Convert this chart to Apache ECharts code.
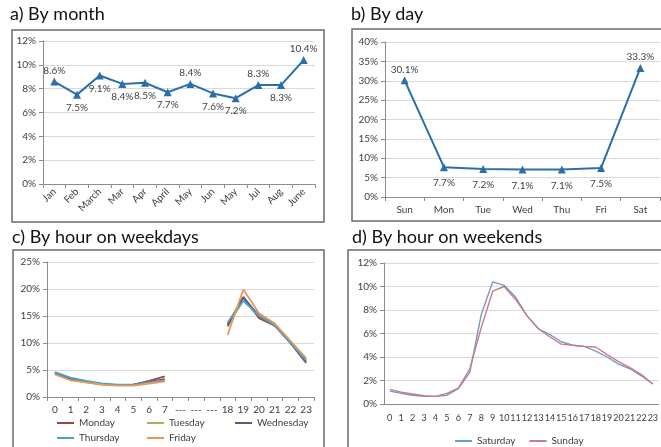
<!DOCTYPE html>
<html>
<head>
<meta charset="utf-8">
<script src="https://cdn.jsdelivr.net/npm/echarts@6/dist/echarts.min.js"></script>
<style>
  html, body { margin: 0; padding: 0; background: #fff; }
  #chart { width: 661px; height: 447px; }
</style>
</head>
<body>
<div id="chart"></div>
<script>
// a) by month
var months = ['Jan', 'Feb', 'March', 'Mar', 'Apr', 'April', 'May', 'Jun', 'May', 'Jul', 'Aug', 'June']
var monthValues = [8.6, 7.5, 9.1, 8.4, 8.5, 7.7, 8.4, 7.6, 7.2, 8.3, 8.3, 10.4]
var monthLabelSide = ['top', 'bottom', 'bottom', 'bottom', 'bottom', 'bottom', 'top', 'bottom', 'bottom', 'top', 'bottom', 'top']

// b) by day
var days = ['Sun', 'Mon', 'Tue', 'Wed', 'Thu', 'Fri', 'Sat']
var dayValues = [30.1, 7.7, 7.2, 7.1, 7.1, 7.5, 33.3]
var dayLabelSide = ['top', 'bottom', 'bottom', 'bottom', 'bottom', 'bottom', 'top']

// c) by hour on weekdays
var weekdayHours = ['0', '1', '2', '3', '4', '5', '6', '7', '---', '---', '---', '18', '19', '20', '21', '22', '23']
var monday    = [4.4, 3.3, 2.8, 2.4, 2.2, 2.3, 3.0, 3.8, null, null, null, 13.5, 18.5, 14.6, 13.2, 10.0, 6.6]
var tuesday   = [4.3, 3.2, 2.7, 2.3, 2.2, 2.2, 2.6, 3.0, null, null, null, 13.0, 18.0, 15.2, 13.5, 10.2, 7.0]
var wednesday = [4.5, 3.4, 2.9, 2.4, 2.2, 2.3, 2.8, 3.3, null, null, null, 13.2, 18.5, 15.0, 13.3, 10.0, 6.3]
var thursday  = [4.6, 3.6, 3.0, 2.5, 2.3, 2.3, 2.7, 3.1, null, null, null, 13.8, 17.8, 15.0, 13.3, 10.0, 6.8]
var friday    = [4.2, 3.1, 2.7, 2.3, 2.1, 2.1, 2.5, 2.9, null, null, null, 11.5, 19.9, 15.5, 13.6, 10.4, 7.2]

// d) by hour on weekends
var weekendHours = ['0', '1', '2', '3', '4', '5', '6', '7', '8', '9', '10', '11', '12', '13', '14', '15', '16', '17', '18', '19', '20', '21', '22', '23']
var saturday = [1.1, 0.9, 0.75, 0.65, 0.65, 0.75, 1.3, 2.7, 7.6, 10.4, 10.1, 9.1, 7.5, 6.4, 5.9, 5.3, 5.0, 4.9, 4.5, 4.0, 3.4, 3.0, 2.4, 1.7]
var sunday   = [1.25, 1.0, 0.85, 0.7, 0.65, 0.9, 1.35, 3.0, 6.5, 9.6, 10.0, 8.9, 7.5, 6.4, 5.7, 5.1, 5.0, 4.9, 4.85, 4.2, 3.6, 3.1, 2.5, 1.7]

var font = 'Lato, "Open Sans", sans-serif'
var blue = '#2a6fab'
var gridColor = '#d9d9d9'
var axisColor = '#8c8c8c'
var textColor = '#404040'

function catAxis(idx, data, extra) {
    var ax = {
        type: 'category',
        gridIndex: idx,
        data: data,
        boundaryGap: true,
        axisLine: { lineStyle: { color: axisColor } },
        axisTick: { show: true, length: 4, lineStyle: { color: axisColor } },
        axisLabel: { color: textColor, fontSize: 10, fontFamily: font, interval: 0, margin: 8 }
    }
    return Object.assign(ax, extra || {})
}

function valAxis(idx, max, step) {
    return {
        type: 'value',
        gridIndex: idx,
        min: 0,
        max: max,
        interval: step,
        axisLine: { show: true, lineStyle: { color: axisColor } },
        axisTick: { show: true, length: 4, lineStyle: { color: axisColor } },
        axisLabel: { color: textColor, fontSize: 10, fontFamily: font, formatter: '{value}%', margin: 7 },
        splitLine: { lineStyle: { color: gridColor, width: 1 } }
    }
}

function labelled(values, sides, dist) {
    return values.map(function (v, i) {
        return {
            value: v,
            label: {
                show: true,
                position: sides[i],
                distance: sides[i] === 'top' ? dist[0] : dist[1],
                formatter: v.toFixed(1) + '%',
                color: textColor,
                fontSize: 10,
                fontFamily: font
            }
        }
    })
}

function hourLine(name, data, color, axisIdx, width) {
    return {
        name: name,
        type: 'line',
        xAxisIndex: axisIdx,
        yAxisIndex: axisIdx,
        data: data,
        symbol: 'none',
        connectNulls: false,
        lineStyle: { color: color, width: width },
        itemStyle: { color: color }
    }
}

function box(x, y, w, h) {
    return {
        type: 'rect',
        shape: { x: x, y: y, width: w, height: h },
        style: { fill: 'none', stroke: '#6b6b6b', lineWidth: 1.5 },
        silent: true
    }
}

var titleStyle = { fontSize: 18, fontWeight: 'normal', color: '#111', fontFamily: font }
var legendText = { color: textColor, fontSize: 10, fontFamily: font }

function legendAt(names, left, top) {
    return {
        data: names, left: left, top: top,
        icon: 'rect', itemWidth: 17, itemHeight: 2, itemGap: 14,
        textStyle: legendText, padding: 0
    }
}

var option = {
    animation: false,
    title: [
        { text: 'a) By month', left: 10, top: 5, textStyle: titleStyle, padding: 0 },
        { text: 'b) By day', left: 351, top: 5, textStyle: titleStyle, padding: 0 },
        { text: 'c) By hour on weekdays', left: 12, top: 228, textStyle: titleStyle, padding: 0 },
        { text: 'd) By hour on weekends', left: 352, top: 228, textStyle: titleStyle, padding: 0 }
    ],
    graphic: [
        box(12, 30, 312, 192),
        box(352, 29, 320, 192),
        box(13, 250, 311, 210),
        box(348, 250, 330, 210)
    ],
    legend: [
        legendAt(['Monday'], 57, 418),
        legendAt(['Tuesday'], 147, 418),
        legendAt(['Wednesday'], 235, 418),
        legendAt(['Thursday'], 57, 433),
        legendAt(['Friday'], 147, 433),
        legendAt(['Saturday', 'Sunday'], 455, 436)
    ],
    grid: [
        { left: 43, top: 41, width: 272, height: 143 },
        { left: 385, top: 42, width: 275, height: 155 },
        { left: 47, top: 262, width: 267, height: 135 },
        { left: 384, top: 263, width: 278, height: 141 }
    ],
    xAxis: [
        catAxis(0, months, { axisLabel: { color: textColor, fontSize: 10, fontFamily: font, interval: 0, rotate: 45, margin: 6 } }),
        catAxis(1, days),
        catAxis(2, weekdayHours),
        catAxis(3, weekendHours, {
            axisTick: { show: false },
            axisLabel: { color: textColor, fontSize: 9, fontFamily: font, interval: 0, margin: 10 }
        })
    ],
    yAxis: [
        valAxis(0, 12, 2),
        valAxis(1, 40, 5),
        valAxis(2, 25, 5),
        valAxis(3, 12, 2)
    ],
    series: [
        {
            name: 'By month',
            type: 'line',
            xAxisIndex: 0,
            yAxisIndex: 0,
            data: labelled(monthValues, monthLabelSide, [2, 4]),
            symbol: 'triangle',
            symbolSize: 8,
            lineStyle: { color: blue, width: 2 },
            itemStyle: { color: blue }
        },
        {
            name: 'By day',
            type: 'line',
            xAxisIndex: 1,
            yAxisIndex: 1,
            data: labelled(dayValues, dayLabelSide, [2, 7]),
            symbol: 'triangle',
            symbolSize: 8,
            lineStyle: { color: blue, width: 2 },
            itemStyle: { color: blue }
        },
        hourLine('Monday', monday, '#a4423f', 2, 1.8),
        hourLine('Tuesday', tuesday, '#9bb563', 2, 1.8),
        hourLine('Wednesday', wednesday, '#5b5788', 2, 1.8),
        hourLine('Thursday', thursday, '#4ba4c4', 2, 1.8),
        hourLine('Friday', friday, '#e7975a', 2, 1.8),
        hourLine('Saturday', saturday, '#7597cc', 3, 1.4),
        hourLine('Sunday', sunday, '#c97b86', 3, 1.4)
    ]
}

var chart = echarts.init(document.getElementById('chart'))
chart.setOption(option)
</script>
</body>
</html>
